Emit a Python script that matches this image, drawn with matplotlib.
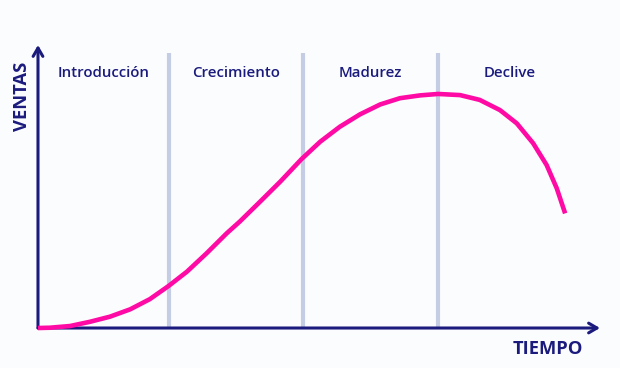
import matplotlib
matplotlib.use("Agg")
import matplotlib.pyplot as plt

# product life cycle curve (time 0..100, sales 0..100)
tiempo = [0, 2.1, 5.7, 9.25, 12.8, 16.4, 19.9, 23.2, 26.5, 30.0, 33.6, 35.9,
          39.5, 43.1, 46.9, 50.2, 53.7, 57.3, 60.9, 64.4, 68.0, 71.2, 75.1,
          78.6, 82.2, 85.2, 88.1, 90.5, 92.3, 93.8]
ventas = [0, 0.1, 0.7, 2.2, 4.0, 6.6, 10.2, 14.8, 19.9, 26.4, 33.5, 37.6,
          44.6, 51.7, 59.7, 65.8, 71.1, 75.5, 79.0, 81.2, 82.2, 82.7, 82.3,
          80.6, 77.0, 72.3, 65.3, 57.6, 49.4, 40.5]

etapas = ["Introducción", "Crecimiento", "Madurez", "Declive"]
limites = [23.3, 47.2, 71.2]          # stage boundaries on the time axis
centros = [11.7, 35.2, 59.2, 83.9]    # label centres

NAVY = "#1b1b7d"
PINK = "#ff0aa5"
GRID = "#c5cde4"
BG = "#fbfcfe"

fig = plt.figure(figsize=(6.2, 3.68), dpi=100, facecolor=BG)
ax = fig.add_axes([0, 0, 1, 1])
ax.set_facecolor(BG)
ax.set_xlim(-6.76, 103.56)
ax.set_ylim(-14.13, 115.9)
ax.axis("off")

for x in limites:
    ax.plot([x, x], [0, 97.2], color=GRID, lw=3, solid_capstyle="butt", zorder=1)

# axes with arrow heads
arrow = dict(arrowstyle="->,head_length=0.6,head_width=0.35", color=NAVY, lw=2.2,
             shrinkA=0, shrinkB=0)
ax.annotate("", xy=(100, 0), xytext=(0, 0), arrowprops=arrow, zorder=2)
ax.annotate("", xy=(0, 100), xytext=(0, 0), arrowprops=arrow, zorder=2)

ax.plot(tiempo, ventas, color=PINK, lw=3.3, solid_capstyle="butt",
        solid_joinstyle="round", zorder=3)

for nombre, cx in zip(etapas, centros):
    ax.text(cx, 90, nombre, ha="center", va="center", color=NAVY,
            fontsize=10.8, fontweight="semibold", family="Open Sans")

ax.text(-2.8, 82, "VENTAS", rotation=90, ha="center", va="center", color=NAVY,
        fontsize=13.2, fontweight="bold", family="Open Sans")
ax.text(90.7, -7.4, "TIEMPO", ha="center", va="center", color=NAVY,
        fontsize=13.2, fontweight="bold", family="Open Sans")

fig.savefig("out.png", dpi=100, facecolor=BG)
